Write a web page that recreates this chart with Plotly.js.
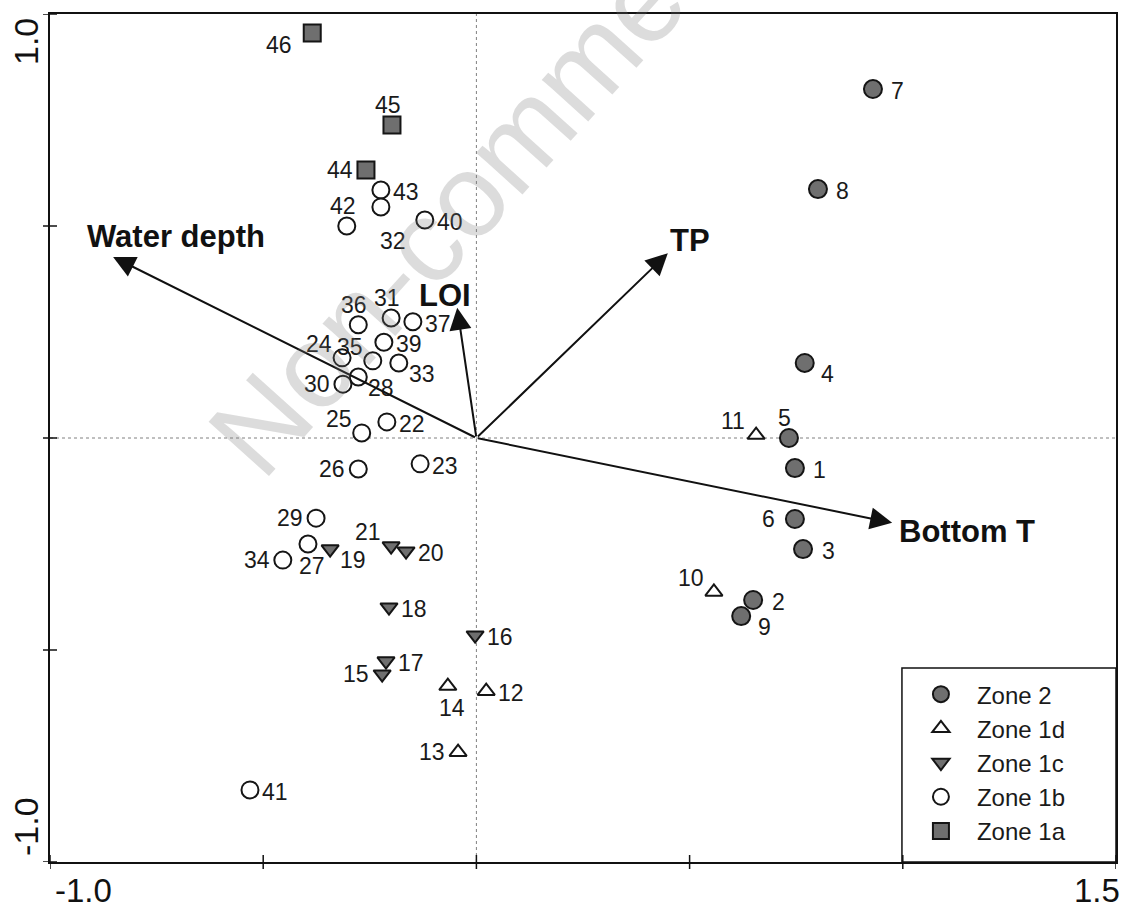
<!DOCTYPE html>
<html>
<head>
<meta charset="utf-8">
<script src="https://cdn.plot.ly/plotly-3.0.1.min.js"></script>
<style>html,body{margin:0;padding:0;background:#fff;}#chart{width:1131px;height:908px;}</style>
</head>
<body>
<div id="chart"></div>
<script>
// ---- Sample scores (axis 1, axis 2) ----
const zone2Ids = ['7','8','4','5','1','6','3','2','9'];
const zone2X = [0.930, 0.801, 0.770, 0.733, 0.747, 0.747, 0.766, 0.649, 0.621];
const zone2Y = [0.823, 0.587, 0.177, 0.000, -0.071, -0.191, -0.262, -0.382, -0.420];

const zone1dIds = ['11','10','12','14','13'];
const zone1dX = [0.656, 0.557, 0.023, -0.067, -0.043];
const zone1dY = [0.007, -0.363, -0.597, -0.585, -0.741];

const zone1cIds = ['16','18','17','15','21','20','19'];
const zone1cX = [-0.003, -0.205, -0.212, -0.221, -0.200, -0.165, -0.343];
const zone1cY = [-0.465, -0.399, -0.526, -0.557, -0.255, -0.267, -0.262];

const zone1bIds = ['29','27','34','41','36','31','37','39','24','35','33','28','30','22','25','26','23','43','32','42','40'];
const zone1bX = [-0.376, -0.395, -0.454, -0.531, -0.277, -0.200, -0.149, -0.217, -0.315, -0.243, -0.182, -0.277, -0.313, -0.210, -0.269, -0.277, -0.132, -0.224, -0.224, -0.304, -0.121];
const zone1bY = [-0.189, -0.250, -0.288, -0.830, 0.267, 0.283, 0.274, 0.226, 0.189, 0.182, 0.177, 0.144, 0.127, 0.038, 0.012, -0.073, -0.061, 0.585, 0.545, 0.500, 0.514];

const zone1aIds = ['46','45','44'];
const zone1aX = [-0.385, -0.198, -0.259];
const zone1aY = [0.955, 0.738, 0.632];

// ---- Environmental vectors ----
const envNames = ['Water depth', 'TP', 'LOI', 'Bottom T'];
const envX = [-0.852, 0.449, -0.045, 0.975];
const envY = [0.427, 0.436, 0.307, -0.200];

// ---- Axis ticks ----
const xTicks = [-1.0, -0.5, 0, 0.5, 1.0, 1.5];
const yTicks = [-1.0, -0.5, 0, 0.5, 1.0];
const xTickLabels = ['-1.0', '1.5'];
const yTickLabels = ['-1.0', '1.0'];

// ---- Label placement codes (style) ----
const zone2Place = ['r','r','br','t','r','l','r','r','br'];
const zone1dPlace = ['tl','tl','r','b','l'];
const zone1cPlace = ['r','r','r','l','tl','r','br'];
const zone1bPlace = ['l','b','l','r','t','t','r','r','tl','tl','br','br','l','r','tl','l','r','r','bb','t','r'];
const zone1aPlace = ['bl','t','l'];

const placeOffsets = {
  r: [25, 2], l: [-26, 0], t: [-4, -20], b: [4, 22], bb: [12, 34],
  tl: [-23, -14], br: [23, 11], bl: [-33, 12]
};

const FONT = 'Liberation Sans, Arial, Helvetica, sans-serif';
const GRAY = '#6f6f6f';
const EDGE = '#151515';

function zoneTrace(name, xs, ys, symbol, fill, size) {
  return {
    type: 'scatter', mode: 'markers', name: name, x: xs, y: ys,
    marker: { symbol: symbol, size: size, color: fill, line: { color: EDGE, width: 2 } },
    hoverinfo: 'skip', cliponaxis: false
  };
}

const traces = [
  zoneTrace('Zone 2', zone2X, zone2Y, 'circle', GRAY, 18),
  zoneTrace('Zone 1d', zone1dX, zone1dY, 'triangle-up', '#ffffff', 15),
  zoneTrace('Zone 1c', zone1cX, zone1cY, 'triangle-down', GRAY, 15),
  zoneTrace('Zone 1b', zone1bX, zone1bY, 'circle', '#ffffff', 17),
  zoneTrace('Zone 1a', zone1aX, zone1aY, 'square', GRAY, 17)
];

const annotations = [];

function addLabels(ids, xs, ys, places) {
  ids.forEach((id, i) => {
    const off = placeOffsets[places[i]];
    annotations.push({
      x: xs[i], y: ys[i], xref: 'x', yref: 'y', text: id, showarrow: false,
      xshift: off[0], yshift: -off[1],
      font: { family: FONT, size: 23, color: '#1a1a1a' }
    });
  });
}
addLabels(zone2Ids, zone2X, zone2Y, zone2Place);
addLabels(zone1dIds, zone1dX, zone1dY, zone1dPlace);
addLabels(zone1cIds, zone1cX, zone1cY, zone1cPlace);
addLabels(zone1bIds, zone1bX, zone1bY, zone1bPlace);
addLabels(zone1aIds, zone1aX, zone1aY, zone1aPlace);

// Vector arrows
const envLabelStyle = [
  { xanchor: 'left', xshift: -28, yshift: 20 },
  { xanchor: 'left', xshift: 0, yshift: 13 },
  { xanchor: 'center', xshift: -12, yshift: 12 },
  { xanchor: 'left', xshift: 5, yshift: -9 }
];
envNames.forEach((nm, i) => {
  annotations.push({
    x: envX[i], y: envY[i], xref: 'x', yref: 'y',
    ax: 0, ay: 0, axref: 'x', ayref: 'y',
    text: '', showarrow: true, arrowhead: 2, arrowsize: 2.2, arrowwidth: 2,
    arrowcolor: '#111', standoff: 0, startstandoff: 0
  });
  annotations.push({
    x: envX[i], y: envY[i], xref: 'x', yref: 'y', showarrow: false,
    text: '<b>' + nm + '</b>', xanchor: envLabelStyle[i].xanchor, yanchor: 'middle',
    xshift: envLabelStyle[i].xshift, yshift: envLabelStyle[i].yshift,
    font: { family: FONT, size: 31, color: '#111' }
  });
});

// Axis tick labels
annotations.push({ x: xTicks[0], y: 0, xref: 'x', yref: 'paper', text: xTickLabels[0], showarrow: false,
  xanchor: 'center', yanchor: 'top', xshift: 33, yshift: -8, font: { family: FONT, size: 33, color: '#111' } });
annotations.push({ x: xTicks[xTicks.length - 1], y: 0, xref: 'x', yref: 'paper', text: xTickLabels[1], showarrow: false,
  xanchor: 'center', yanchor: 'top', xshift: -19, yshift: -8, font: { family: FONT, size: 33, color: '#111' } });
annotations.push({ x: 0, y: yTicks[0], xref: 'paper', yref: 'y', text: yTickLabels[0], showarrow: false,
  textangle: -90, xanchor: 'center', yanchor: 'middle', xshift: -24, yshift: 35, font: { family: FONT, size: 34, color: '#111' } });
annotations.push({ x: 0, y: yTicks[yTicks.length - 1], xref: 'paper', yref: 'y', text: yTickLabels[1], showarrow: false,
  textangle: -90, xanchor: 'center', yanchor: 'middle', xshift: -24, yshift: -28, font: { family: FONT, size: 34, color: '#111' } });

// Watermark
annotations.push({ x: 0.44, y: 0.855, xref: 'paper', yref: 'paper', text: 'Non-commercial', showarrow: false,
  textangle: -48, xanchor: 'center', yanchor: 'middle',
  font: { family: FONT, size: 118, color: 'rgba(120,120,120,0.26)' } });

const shapes = [
  { type: 'line', xref: 'x', yref: 'paper', x0: 0, x1: 0, y0: 0, y1: 1, layer: 'below',
    line: { color: '#808080', width: 1, dash: 'dot' } },
  { type: 'line', xref: 'paper', yref: 'y', x0: 0, x1: 1, y0: 0, y1: 0, layer: 'below',
    line: { color: '#808080', width: 1, dash: 'dot' } },
  { type: 'rect', xref: 'paper', yref: 'paper', x0: 0.7992, x1: 1, y0: 0, y1: 0.2288, layer: 'above',
    fillcolor: '#ffffff', line: { color: '#111', width: 1.5 } }
];
xTicks.forEach(v => shapes.push({ type: 'line', xref: 'x', yref: 'paper', ysizemode: 'pixel', yanchor: 0,
  x0: v, x1: v, y0: -7, y1: 7, line: { color: '#111', width: 1.5 } }));
yTicks.forEach(v => shapes.push({ type: 'line', xref: 'paper', yref: 'y', xsizemode: 'pixel', xanchor: 0,
  x0: -7, x1: 7, y0: v, y1: v, line: { color: '#111', width: 1.5 } }));

const axisCommon = {
  showgrid: false, zeroline: false, showline: true, mirror: true,
  linecolor: '#111', linewidth: 2, ticks: '', showticklabels: false, fixedrange: true
};

const layout = {
  width: 1131, height: 908,
  margin: { l: 50, r: 15, t: 14, b: 46 },
  paper_bgcolor: '#ffffff', plot_bgcolor: '#ffffff',
  xaxis: Object.assign({ range: [xTicks[0], xTicks[xTicks.length - 1]] }, axisCommon),
  yaxis: Object.assign({ range: [yTicks[0], yTicks[yTicks.length - 1]] }, axisCommon),
  showlegend: true,
  legend: {
    x: 0.802, y: 0.224, xanchor: 'left', yanchor: 'top',
    bgcolor: 'rgba(0,0,0,0)', borderwidth: 0, itemwidth: 62,
    font: { family: FONT, size: 24, color: '#1a1a1a' },
    tracegroupgap: 0, itemclick: false, itemdoubleclick: false
  },
  annotations: annotations,
  shapes: shapes
};

Plotly.newPlot('chart', traces, layout, { displayModeBar: false, staticPlot: true });
</script>
</body>
</html>
